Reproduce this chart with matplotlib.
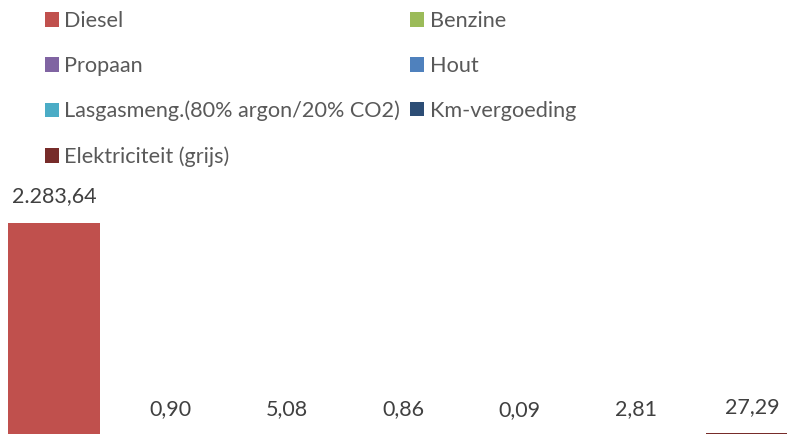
import matplotlib.pyplot as plt

categories = ["Diesel", "Benzine", "Propaan", "Hout",
              "Lasgasmeng.(80% argon/20% CO2)", "Km-vergoeding", "Elektriciteit (grijs)"]
values = [2283.64, 0.90, 5.08, 0.86, 0.09, 2.81, 27.29]
labels = ["2.283,64", "0,90", "5,08", "0,86", "0,09", "2,81", "27,29"]
colors = ["#C0504D", "#9BBB59", "#8064A2", "#4F81BD", "#4BACC6", "#2C4D75", "#772C2A"]

plt.rcParams['font.family'] = ['Lato', 'DejaVu Sans']
W, H = 787, 434
fig = plt.figure(figsize=(W / 100, H / 100), dpi=100)

# axes runs a little past the picture edges, like the cropped original
left_px, right_px = -4, 810
base_px, top_px = 436, 202.8
ax = fig.add_axes([left_px / W, (H - base_px) / H,
                   (right_px - left_px) / W, (base_px - top_px) / H])

handles = []
for i, (c, v, lab, col) in enumerate(zip(categories, values, labels, colors)):
    b = ax.bar(i, v, width=0.79, color=col, label=c)
    handles.append(b)
    ax.annotate(lab, (i, v), xytext=(0, 19), textcoords="offset points",
                ha="center", va="center", fontsize=15.5, color="#404040")

ax.set_xlim(-0.5, len(values) - 0.5)
ax.set_ylim(0, 2500)
ax.axis("off")

order = [0, 2, 4, 6, 1, 3, 5]
leg = fig.legend([handles[k] for k in order], [categories[k] for k in order],
                 ncol=2, loc="upper left", bbox_to_anchor=(45 / W, 1 - 11 / H),
                 frameon=False, fontsize=15.6, handlelength=0.65, handleheight=0.65,
                 handletextpad=0.25, columnspacing=0.45, labelspacing=1.15,
                 borderpad=0, borderaxespad=0)
for t in leg.get_texts():
    t.set_color("#595959")

fig.savefig("out.png", dpi=100)
